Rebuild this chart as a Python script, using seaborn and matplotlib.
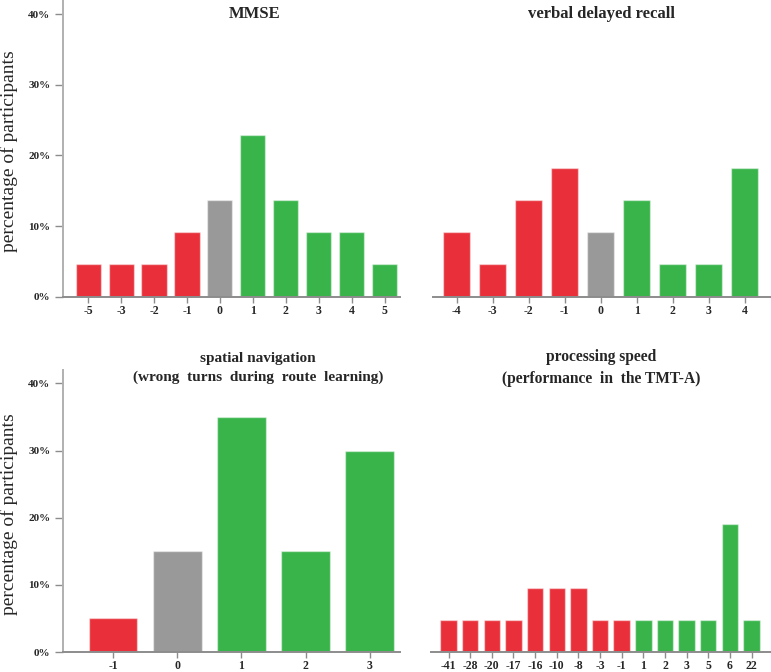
"""
Change in scores per test: share of participants (2x2 bar panels)
"""

import numpy as np
import matplotlib
matplotlib.use("Agg")
import matplotlib.pyplot as plt
from matplotlib.ticker import PercentFormatter, MultipleLocator
import seaborn as sns

# data (percent of participants)
mmse_labels = ["-5", "-3", "-2", "-1", "0", "1", "2", "3", "4", "5"]
mmse_values = [4.6, 4.6, 4.6, 9.2, 13.7, 22.9, 13.7, 9.2, 9.2, 4.6]

verbal_labels = ["-4", "-3", "-2", "-1", "0", "1", "2", "3", "4"]
verbal_values = [9.1, 4.6, 13.7, 18.2, 9.1, 13.7, 4.6, 4.6, 18.2]

spatial_labels = ["-1", "0", "1", "2", "3"]
spatial_values = [5.0, 15.0, 35.0, 15.0, 30.0]

speed_labels = ["-41", "-28", "-20", "-17", "-16", "-10", "-8", "-3", "-1",
                "1", "2", "3", "5", "6", "22"]
speed_values = [4.76, 4.76, 4.76, 4.76, 9.52, 9.52, 9.52, 4.76, 4.76,
                4.76, 4.76, 4.76, 4.76, 19.05, 4.76]

# which direction each bar stands for
mmse_groups = ["worse"] * 4 + ["same"] + ["better"] * 5
verbal_groups = ["worse"] * 4 + ["same"] + ["better"] * 4
spatial_groups = ["worse", "same", "better", "better", "better"]
speed_groups = ["worse"] * 9 + ["better"] * 6

colores = {"worse": "#E9303A", "same": "#999999", "better": "#38B44A"}

sns.set_style("white")
plt.rcParams["font.family"] = ["Liberation Serif", "DejaVu Serif"]

fig = plt.figure(figsize=(7.71, 6.72), dpi=100)
W, H = 771, 672


def px_axes(left, top, right, bottom):
    return fig.add_axes([left / W, 1 - bottom / H, (right - left) / W, (bottom - top) / H])


ax1 = px_axes(63, 0, 400, 296.7)
ax2 = px_axes(433, 0, 771, 296.7)
ax3 = px_axes(63, 370, 400, 652)
ax4 = px_axes(431, 370, 771, 652)

paneles = [
    (ax1, mmse_labels, mmse_values, mmse_groups, (-0.76, 9.46), True),
    (ax2, verbal_labels, verbal_values, verbal_groups, (-0.66, 8.73), False),
    (ax3, spatial_labels, spatial_values, spatial_groups, (-0.78, 4.47), True),
    (ax4, speed_labels, speed_values, speed_groups, (-0.81, 14.9), False),
]

for ax, labels, values, groups, xlim, con_y in paneles:
    sns.barplot(x=labels, y=values, hue=groups, order=labels, palette=colores,
                dodge=False, legend=False, width=0.76, saturation=1, ax=ax,
                edgecolor=(1, 1, 1, 0.45), linewidth=1)
    ax.set_xlim(*xlim)
    ax.set_ylim(0, 42)
    ax.yaxis.set_major_locator(MultipleLocator(10))
    ax.yaxis.set_major_formatter(PercentFormatter(decimals=0))
    for s in ["top", "right"]:
        ax.spines[s].set_visible(False)
    ax.spines["bottom"].set_color("#8c8c8c")
    ax.spines["bottom"].set_linewidth(1.4)
    ax.tick_params(axis="x", bottom=True, length=4, width=1, color="#8c8c8c",
                   labelsize=8.5, pad=2)
    for t in ax.get_xticklabels():
        t.set_fontweight("bold")
    if con_y:
        ax.spines["left"].set_color("#b0b0b0")
        ax.spines["left"].set_linewidth(1.4)
        ax.tick_params(axis="y", left=True, length=6, width=1, color="#8c8c8c",
                       labelsize=8, pad=3)
        for t in ax.get_yticklabels():
            t.set_fontweight("bold")
        ax.set_ylabel("percentage of participants", fontsize=14)
        ax.yaxis.set_label_coords(-0.135, 0.49)
    else:
        ax.spines["left"].set_visible(False)
        ax.tick_params(axis="y", left=False, labelleft=False)
        ax.set_ylabel("")

fig.text(255 / W, 1 - 14 / H, "MMSE", ha="center", va="center",
         fontsize=12, fontweight="bold")
fig.text(601 / W, 1 - 14 / H, "verbal delayed recall", ha="center", va="center",
         fontsize=12, fontweight="bold")
fig.text(258 / W, 1 - 368 / H, "spatial navigation\n(wrong  turns  during  route  learning)",
         ha="center", va="center", fontsize=11, fontweight="bold", linespacing=1.45)
fig.text(601 / W, 1 - 368 / H, "processing speed\n(performance  in  the TMT-A)",
         ha="center", va="center", fontsize=11.2, fontweight="bold", linespacing=1.45)

fig.savefig("out.png", dpi=100)
